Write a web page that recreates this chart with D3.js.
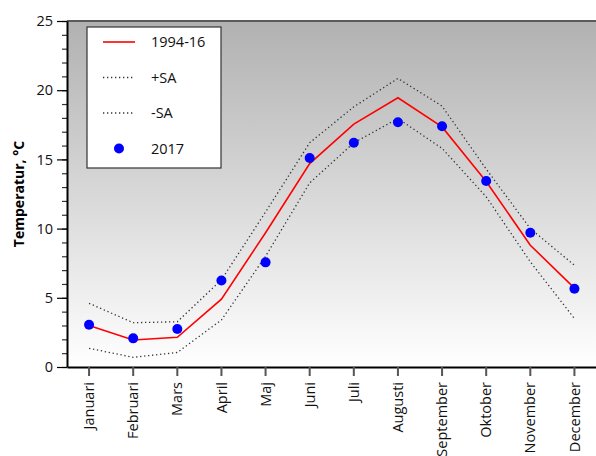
<!DOCTYPE html>
<html>
<head>
<meta charset="utf-8">
<script src="https://d3js.org/d3.v7.min.js"></script>
<style>
body { margin: 0; background: #fff; }
text { font-family: "Open Sans", sans-serif; }
</style>
</head>
<body>
<svg width="596" height="456"></svg>
<script>
// monthly data
var months = ['Januari', 'Februari', 'Mars', 'April', 'Maj', 'Juni', 'Juli', 'Augusti', 'September', 'Oktober', 'November', 'December'];
var mean = [3.0, 1.95, 2.15, 4.9, 9.7, 14.7, 17.55, 19.45, 17.35, 13.4, 8.8, 5.7];
var plusSA = [4.6, 3.2, 3.27, 6.3, 11.2, 16.2, 18.8, 20.85, 18.85, 14.3, 10.0, 7.35];
var minusSA = [1.35, 0.7, 1.05, 3.4, 8.0, 13.3, 16.2, 17.95, 15.8, 12.3, 7.6, 3.5];
var obs2017 = [3.05, 2.07, 2.75, 6.25, 7.56, 15.1, 16.2, 17.68, 17.4, 13.44, 9.7, 5.65];
var legendLabels = ['1994-16', '+SA', '-SA', '2017'];

var svg = d3.select('svg');
var pLeft = 67, pRight = 596.5, pTop = 21, pBottom = 367;

var x = d3.scaleBand().domain(months).range([pLeft, pRight]);
var y = d3.scaleLinear().domain([0, 25]).range([pBottom, pTop]);
function cx(i) { return x(months[i]) + x.bandwidth() / 2; }

// background gradient
var defs = svg.append('defs');
var grad = defs.append('linearGradient').attr('id', 'bg')
	.attr('x1', 0).attr('y1', 0).attr('x2', 0).attr('y2', 1);
grad.append('stop').attr('offset', '0%').attr('stop-color', '#b1b1b1');
grad.append('stop').attr('offset', '100%').attr('stop-color', '#ffffff');

svg.append('rect')
	.attr('x', pLeft).attr('y', pTop)
	.attr('width', pRight - pLeft).attr('height', pBottom - pTop)
	.attr('fill', 'url(#bg)');
svg.append('line')
	.attr('x1', pLeft).attr('x2', pRight).attr('y1', pTop).attr('y2', pTop)
	.attr('stroke', '#5a5a5a').attr('stroke-width', 2);

// y axis: major + minor ticks
var yMinor = svg.append('g').attr('transform', 'translate(' + pLeft + ',0)')
	.call(d3.axisLeft(y).tickValues(d3.range(0, 26, 1)).tickSize(5).tickFormat(''));
yMinor.select('.domain').remove();
yMinor.selectAll('line').attr('stroke', '#333').attr('stroke-width', 1.2);

var yAxis = svg.append('g').attr('transform', 'translate(' + pLeft + ',0)')
	.call(d3.axisLeft(y).tickValues(d3.range(0, 26, 5)).tickSize(10).tickSizeOuter(0).tickPadding(4));
yAxis.select('.domain').attr('stroke', '#000').attr('stroke-width', 2);
yAxis.selectAll('line').attr('stroke', '#000').attr('stroke-width', 1.2);
yAxis.selectAll('text').attr('font-size', 14.5).attr('fill', '#111');

// x axis
var xAxis = svg.append('g').attr('transform', 'translate(0,' + pBottom + ')')
	.call(d3.axisBottom(x).tickSize(9).tickSizeOuter(0).tickPadding(6));
xAxis.select('.domain').attr('stroke', '#000').attr('stroke-width', 2);
xAxis.selectAll('line').attr('stroke', '#555').attr('stroke-width', 2);
xAxis.selectAll('text')
	.attr('font-size', 14.5).attr('fill', '#111')
	.attr('transform', 'rotate(-90)')
	.attr('text-anchor', 'end')
	.attr('x', -15).attr('y', 0).attr('dy', '0.35em');

svg.append('text')
	.attr('transform', 'translate(24,' + (pBottom + pTop) / 2 + ') rotate(-90)')
	.attr('text-anchor', 'middle')
	.attr('font-size', 14).attr('font-weight', 'bold')
	.text('Temperatur, °C');

// lines
var line = d3.line().x(function(d, i) { return cx(i); }).y(function(d) { return y(d); });
[plusSA, minusSA].forEach(function(s) {
	svg.append('path').attr('d', line(s))
		.attr('fill', 'none').attr('stroke', '#333')
		.attr('stroke-width', 1.3).attr('stroke-dasharray', '1.3,2.7');
});
svg.append('path').attr('d', line(mean))
	.attr('fill', 'none').attr('stroke', '#ff0000').attr('stroke-width', 1.6);

svg.selectAll('.dot').data(obs2017).enter().append('circle')
	.attr('class', 'dot')
	.attr('cx', function(d, i) { return cx(i); })
	.attr('cy', function(d) { return y(d); })
	.attr('r', 5).attr('fill', '#0000ff');

// legend
var lg = svg.append('g').attr('transform', 'translate(87,27)');
lg.append('rect').attr('width', 134).attr('height', 141)
	.attr('fill', '#fff').attr('stroke', '#333').attr('stroke-width', 1.2);
legendLabels.forEach(function(lab, i) {
	var yy = 15 + i * 35.5;
	if (i == 0) {
		lg.append('line').attr('x1', 16).attr('x2', 48).attr('y1', yy).attr('y2', yy)
			.attr('stroke', '#ff0000').attr('stroke-width', 1.6);
	} else if (i < 3) {
		lg.append('line').attr('x1', 16).attr('x2', 48).attr('y1', yy).attr('y2', yy)
			.attr('stroke', '#333').attr('stroke-width', 1.3).attr('stroke-dasharray', '1.3,2.7');
	} else {
		lg.append('circle').attr('cx', 32).attr('cy', yy).attr('r', 5).attr('fill', '#0000ff');
	}
	lg.append('text').attr('x', 64).attr('y', yy).attr('dy', '0.35em')
		.attr('font-size', 14.5).attr('fill', '#111').text(lab);
});
</script>
</body>
</html>
